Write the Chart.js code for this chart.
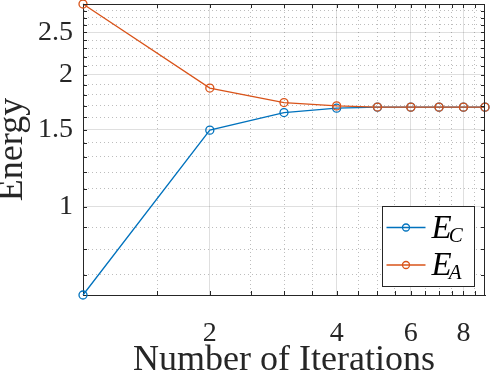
<!DOCTYPE html>
<html>
<head>
<meta charset="utf-8">
<title>Energy vs iterations</title>
<script src="https://cdn.jsdelivr.net/npm/chart.js@4/dist/chart.umd.min.js"></script>
<style>
  body { margin: 0; background: #fff; }
  canvas { display: block; }
</style>
</head>
<body>
<canvas id="myChart" width="491" height="379"></canvas>
<script>
// values
const iterations = [1, 2, 3, 4, 5, 6, 7, 8, 9];
const energyC = [0.63, 1.496, 1.641, 1.679, 1.688, 1.688, 1.688, 1.688, 1.688];
const energyA = [2.90, 1.866, 1.729, 1.699, 1.689, 1.688, 1.688, 1.688, 1.688];

// axis ticks (labelled ones) and the minor grid positions
const xTickLabels = [2, 4, 6, 8];
const xMinorTicks = [1.5, 2.5, 3, 3.5, 4.5, 5, 5.5, 6.5, 7, 7.5, 8.5];
const yTickLabels = [1, 1.5, 2, 2.5];
const yMinorTicks = [0.7, 0.8, 0.9, 1.1, 1.2, 1.3, 1.4, 1.6, 1.7, 1.8, 1.9,
                     2.1, 2.2, 2.3, 2.4, 2.6, 2.7, 2.8];

const blue = '#0072BD';
const orange = '#D95319';
const axisColor = '#262626';
const serif = "'Liberation Serif', 'Times New Roman', serif";

Chart.defaults.font.family = serif;
Chart.defaults.color = axisColor;

function isMajor(list, v) {
    return list.some(m => Math.abs(m - v) < 1e-9);
}

function allTicks(major, minor) {
    return major.concat(minor).sort((a, b) => a - b).map(v => ({ value: v }));
}

// MATLAB style box with inward tick marks
const boxPlugin = {
    id: 'box',
    afterDraw(chart) {
        const ctx = chart.ctx;
        const a = chart.chartArea;
        const xs = chart.scales.x, ys = chart.scales.y;
        ctx.save();
        ctx.strokeStyle = axisColor;
        ctx.lineWidth = 1;
        ctx.beginPath();
        ctx.moveTo(a.left, a.top + 0.5);
        ctx.lineTo(a.right, a.top + 0.5);
        ctx.moveTo(a.right - 0.5, a.top);
        ctx.lineTo(a.right - 0.5, a.bottom);
        xs.ticks.forEach(t => {
            const px = Math.round(xs.getPixelForValue(t.value)) + 0.5;
            ctx.moveTo(px, a.bottom);
            ctx.lineTo(px, a.bottom - 4);
            ctx.moveTo(px, a.top);
            ctx.lineTo(px, a.top + 4);
        });
        ys.ticks.forEach(t => {
            const py = Math.round(ys.getPixelForValue(t.value)) + 0.5;
            ctx.moveTo(a.left, py);
            ctx.lineTo(a.left + 4, py);
            ctx.moveTo(a.right, py);
            ctx.lineTo(a.right - 4, py);
        });
        ctx.stroke();
        ctx.restore();
    }
};

// legend with italic E and subscripts, drawn on top
const legendPlugin = {
    id: 'texLegend',
    afterDraw(chart) {
        const ctx = chart.ctx;
        const a = chart.chartArea;
        const w = 92, h = 80;
        const x0 = Math.round(a.right - 11 - w) + 0.5;
        const y0 = Math.round(a.bottom - 9 - h) + 0.5;
        ctx.save();
        ctx.fillStyle = '#fff';
        ctx.fillRect(x0, y0, w, h);
        ctx.strokeStyle = axisColor;
        ctx.lineWidth = 1;
        ctx.strokeRect(x0, y0, w, h);
        const rows = [
            { color: blue, sub: 'C', y: y0 + 21 },
            { color: orange, sub: 'A', y: y0 + 58.5 }
        ];
        rows.forEach(r => {
            ctx.strokeStyle = r.color;
            ctx.lineWidth = 1.3;
            ctx.beginPath();
            ctx.moveTo(x0 + 4, r.y);
            ctx.lineTo(x0 + 43, r.y);
            ctx.stroke();
            ctx.beginPath();
            ctx.arc(x0 + 23.5, r.y, 3.5, 0, Math.PI * 2);
            ctx.stroke();
            ctx.fillStyle = '#000';
            ctx.textBaseline = 'alphabetic';
            ctx.font = 'italic 33px ' + serif;
            ctx.fillText('E', x0 + 49, r.y + 10);
            const ew = ctx.measureText('E').width;
            ctx.font = 'italic 21px ' + serif;
            ctx.fillText(r.sub, x0 + 49 + ew - 3, r.y + 14);
        });
        ctx.restore();
    }
};

const ctx = document.getElementById('myChart').getContext('2d');
const chart = new Chart(ctx, {
    type: 'line',
    data: {
        datasets: [
            {
                label: 'E_C',
                data: iterations.map((x, i) => ({ x: x, y: energyC[i] })),
                borderColor: blue,
                backgroundColor: 'rgba(0,0,0,0)',
                borderWidth: 1.3,
                pointRadius: 4,
                pointBorderWidth: 1.3,
                pointBackgroundColor: 'rgba(0,0,0,0)',
                tension: 0,
                clip: false,
                order: 1
            },
            {
                label: 'E_A',
                data: iterations.map((x, i) => ({ x: x, y: energyA[i] })),
                borderColor: orange,
                backgroundColor: 'rgba(0,0,0,0)',
                borderWidth: 1.3,
                pointRadius: 4,
                pointBorderWidth: 1.3,
                pointBackgroundColor: 'rgba(0,0,0,0)',
                tension: 0,
                clip: false,
                order: 0
            }
        ]
    },
    options: {
        responsive: false,
        animation: false,
        devicePixelRatio: 1,
        layout: { autoPadding: false, padding: { left: 0, top: 4, right: 6, bottom: 0 } },
        plugins: {
            legend: { display: false },
            tooltip: { enabled: false }
        },
        scales: {
            x: {
                type: 'logarithmic',
                bounds: 'data',
                min: 1,
                max: 9,
                afterBuildTicks: scale => { scale.ticks = allTicks(xTickLabels, xMinorTicks); },
                afterFit: scale => {
                    scale.height = 84;
                    scale.paddingLeft = 0;
                    scale.paddingRight = 0;
                },
                ticks: {
                    autoSkip: false,
                    maxRotation: 0,
                    padding: 22,
                    font: { size: 28 },
                    callback: v => isMajor(xTickLabels, v) ? String(v) : ''
                },
                grid: {
                    drawTicks: false,
                    lineWidth: 1,
                    color: c => c.tick && isMajor(xTickLabels, c.tick.value)
                        ? 'rgba(38,38,38,0.15)' : 'rgba(38,38,38,0.3)'
                },
                border: {
                    color: axisColor,
                    width: 1,
                    dash: c => c.tick && !isMajor(xTickLabels, c.tick.value) ? [1, 3] : []
                },
                title: {
                    display: true,
                    text: 'Number of Iterations',
                    padding: 0,
                    font: { size: 36, lineHeight: 1 }
                }
            },
            y: {
                type: 'logarithmic',
                bounds: 'data',
                min: 0.63,
                max: 2.9,
                afterBuildTicks: scale => { scale.ticks = allTicks(yTickLabels, yMinorTicks); },
                afterFit: scale => {
                    scale.width = 83;
                    scale.paddingTop = 0;
                    scale.paddingBottom = 0;
                },
                ticks: {
                    autoSkip: false,
                    padding: 10,
                    font: { size: 28 },
                    callback: v => isMajor(yTickLabels, v) ? String(v) : ''
                },
                grid: {
                    drawTicks: false,
                    lineWidth: 1,
                    color: c => c.tick && isMajor(yTickLabels, c.tick.value)
                        ? 'rgba(38,38,38,0.15)' : 'rgba(38,38,38,0.3)'
                },
                border: {
                    color: axisColor,
                    width: 1,
                    dash: c => c.tick && !isMajor(yTickLabels, c.tick.value) ? [1, 3] : []
                },
                title: {
                    display: true,
                    text: 'Energy',
                    padding: 0,
                    font: { size: 36, lineHeight: 0.72 }
                }
            }
        }
    },
    plugins: [boxPlugin, legendPlugin]
});
</script>
</body>
</html>
